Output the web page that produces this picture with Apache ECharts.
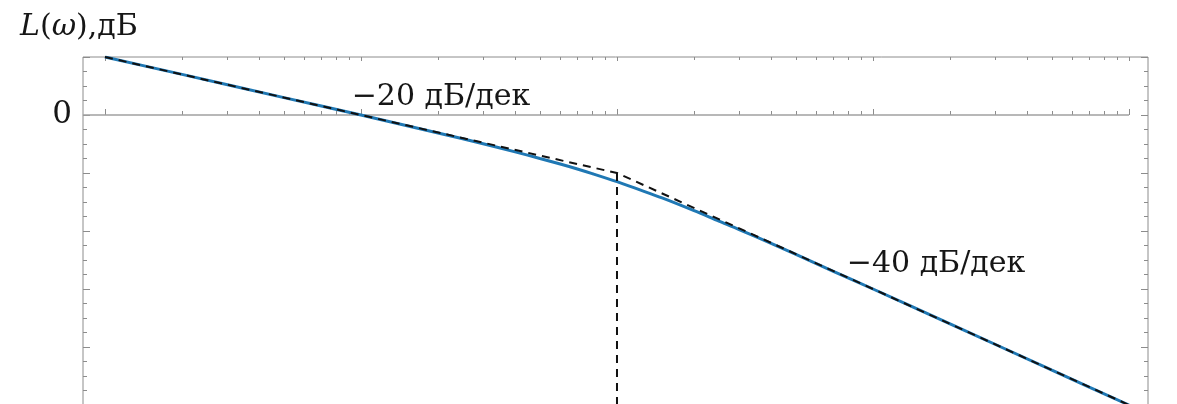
<!DOCTYPE html>
<html>
<head>
<meta charset="utf-8">
<script src="https://cdn.jsdelivr.net/npm/echarts@6/dist/echarts.min.js"></script>
<style>
  html, body { margin: 0; padding: 0; background: #fff; }
  #chart { width: 1177px; height: 404px; }
</style>
</head>
<body>
<div id="chart"></div>
<script>
// Frequency samples (rad/s) and the exact magnitude response L(ω), dB
const omega = [1, 2, 5, 10, 20, 30, 40, 50, 60, 70, 80, 100, 120, 150, 200, 250, 300, 400, 500, 700, 1000, 2000, 5000, 10000];
const magnitude = [20, 14, 6, 0, -6.2, -9.9, -12.7, -15, -16.9, -18.6, -20.2, -23, -25.5, -28.6, -33, -36.6, -39.5, -44.3, -48.1, -53.9, -60, -72, -88, -100];

// Straight-line asymptotes: -20 dB/dec up to the corner, -40 dB/dec after it
const asymOmega = [1, 100, 10000];
const asymMagnitude = [20, -20, -100];

// Vertical marker at the corner frequency
const cornerOmega = [100, 100];
const cornerMagnitude = [-20, -100];

// 0 dB reference line
const zeroOmega = [0.82, 10000];
const zeroMagnitude = [0, 0];

// Slope annotations
const slopeTexts = ['\u221220 дБ/дек', '\u221240 дБ/дек'];
const slopeOmega = [9.2, 790];
const slopeMagnitude = [6.0, -51.5];

// Axis ticks
const xMajorTicks = [1, 10, 100, 1000, 10000];
const xMinorTicks = [];
[1, 10, 100, 1000].forEach(d => { for (let k = 2; k <= 9; k++) xMinorTicks.push(k * d); });
const yLabelValues = [0];

const pairs = (xs, ys) => xs.map((x, i) => [x, ys[i]]);

const SERIF = '"DejaVu Serif", "Liberation Serif", serif';
const INK = '#161616';
const FRAME = '#8c8c8c';
const X_MIN = 0.8206, X_MAX = 11864;

function logAxis(position, ticks, len) {
  return {
    type: 'log', logBase: 10, position, min: X_MIN, max: X_MAX,
    axisLine: { show: false },
    axisTick: { show: true, inside: true, length: len, customValues: ticks, lineStyle: { color: FRAME, width: 1 } },
    axisLabel: { show: false },
    splitLine: { show: false }, minorTick: { show: false }, minorSplitLine: { show: false }
  };
}

function dbAxis(position, showLabel) {
  return {
    type: 'value', position, min: -100, max: 20, interval: 20,
    axisLine: { show: false },
    axisTick: { show: true, inside: true, length: 7, lineStyle: { color: FRAME, width: 1 } },
    minorTick: { show: true, splitNumber: 4, length: 4, lineStyle: { color: FRAME, width: 1 } },
    axisLabel: {
      show: showLabel, margin: 11, color: INK, fontFamily: SERIF, fontSize: 31,
      formatter: v => (yLabelValues.indexOf(v) >= 0 ? String(v) : '')
    },
    splitLine: { show: false }
  };
}

const chart = echarts.init(document.getElementById('chart'), null, { renderer: 'canvas' });
chart.setOption({
  animation: false,
  backgroundColor: '#fff',
  title: {
    left: 15, top: 7,
    text: '{i|L}({i|\u03c9}),дБ',
    textStyle: {
      fontFamily: SERIF, fontSize: 30, fontWeight: 'normal', color: INK,
      rich: { i: { fontFamily: SERIF, fontSize: 30, fontStyle: 'italic', color: INK } }
    }
  },
  grid: {
    left: 83, top: 57, width: 1065, height: 348,
    show: true, borderColor: FRAME, borderWidth: 1, backgroundColor: '#fff',
    outerBoundsMode: 'none'
  },
  xAxis: [
    logAxis('bottom', xMajorTicks, 6),
    logAxis('bottom', xMinorTicks, 4),
    logAxis('top', xMajorTicks, 4),
    logAxis('top', xMinorTicks, 3)
  ],
  yAxis: [dbAxis('left', true), dbAxis('right', false)],
  series: [
    {
      type: 'line', name: 'zero', data: pairs(zeroOmega, zeroMagnitude),
      showSymbol: false, symbol: 'none', silent: true,
      lineStyle: { color: '#a0a0a0', width: 1.5 }, z: 1
    },
    {
      type: 'line', name: 'L', data: pairs(omega, magnitude),
      smooth: 0.3, showSymbol: false, symbol: 'none',
      lineStyle: { color: '#1f78b4', width: 3 }, z: 2
    },
    {
      type: 'line', name: 'asymptote', data: pairs(asymOmega, asymMagnitude),
      showSymbol: false, symbol: 'none',
      lineStyle: { color: '#111', width: 2, type: [8, 6] }, z: 3
    },
    {
      type: 'line', name: 'corner', data: pairs(cornerOmega, cornerMagnitude),
      showSymbol: false, symbol: 'none',
      lineStyle: { color: '#111', width: 2, type: [8, 6] }, z: 3
    },
    {
      type: 'scatter', name: 'slopes', symbolSize: 0, silent: true,
      itemStyle: { opacity: 1 },
      data: slopeOmega.map((w, i) => ({ value: [w, slopeMagnitude[i]], label: { formatter: slopeTexts[i] } })),
      label: {
        show: true, position: [0, 0], align: 'left', verticalAlign: 'middle',
        fontFamily: SERIF, fontSize: 30, color: INK, opacity: 1
      },
      z: 4
    }
  ]
});
</script>
</body>
</html>
